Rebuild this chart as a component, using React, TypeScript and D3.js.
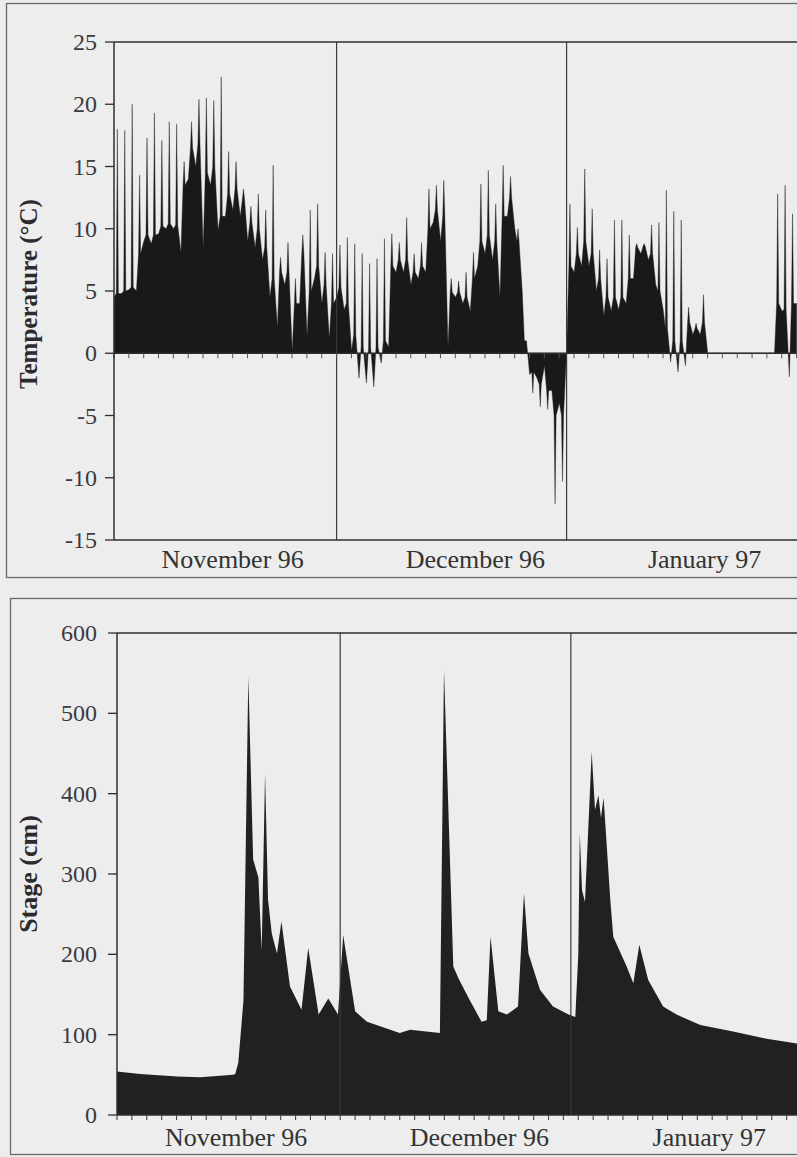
import React from "react";
import * as d3 from "d3";

// ---- Data (day offsets from 1 Nov 1996) ----
const monthStartDays = [0, 30, 61, 92];
const monthLabels = ["November 96", "December 96", "January 97"];
const monthLabelDays = [16, 48.7, 79.6];

const tempTicks = [25, 20, 15, 10, 5, 0, -5, -10, -15];
const stageTicks = [600, 500, 400, 300, 200, 100, 0];

// Temperature, one entry per day: value at start of day (night), shoulder level, daily extreme spike
const tempStart = [
  4.5, 4.8, 5.1, 5.0, 9.0, 8.8, 9.6, 10.0, 10.0, 8.1,
  14.0, 15.0, 8.5, 13.5, 9.9, 11.0, 11.5, 11.0, 9.0, 8.5,
  7.5, 4.5, 2.1, 5.5, 0.2, 4.0, 1.4, 6.0, 4.0, 1.2,
  4.5, 3.5, 0.2, -2.0, -2.4, -2.7, -0.8, 0.5, 6.5, 6.5,
  5.5, 6.0, 6.5, 10.5, 9.0, 0.5, 4.5, 4.0, 3.4, 7.0,
  8.0, 7.5, 4.5, 11.0, 10.0, 5.0, -1.7, -2.0, -1.0, -3.0,
  -4.0, 0.5, 6.5, 7.0, 7.0, 5.0, 3.0, 3.4, 3.5, 4.0,
  6.0, 8.0, 7.5, 5.5, 3.5, -0.7, -1.5, -1.0, 1.5, 1.5,
  0, 0, 0, 0, 0, 0, 0, 0, 0, 0, 3.4, -1.9,
];
const tempBody = [
  4.8, 5.0, 5.3, 8.0, 9.5, 9.5, 10.2, 10.4, 10.3, 13.5,
  16.5, 16.8, 14.5, 15.0, 11.0, 12.8, 13.2, 12.4, 10.5, 10.0,
  8.5, 6.0, 6.5, 6.5, 4.0, 8.0, 5.0, 7.0, 5.5, 4.0,
  5.3, 4.0, 1.5, 0.5, 0.5, 0.5, 1.0, 7.0, 7.5, 7.5,
  6.5, 7.0, 10.0, 11.5, 11.0, 4.9, 4.9, 4.5, 6.0, 9.0,
  9.5, 9.0, 11.0, 12.5, 9.0, 1.0, -1.5, -2.5, -3.0, -5.0,
  -5.0, 7.0, 8.0, 9.0, 8.0, 6.0, 4.5, 4.5, 4.5, 6.0,
  8.5, 8.6, 8.0, 5.0, 2.0, 1.0, 1.0, 2.5, 2.0, 2.5,
  0, 0, 0, 0, 0, 0, 0, 0, 0, 4.0, 3.5, 4.0,
];
const tempPeak = [
  18.0, 17.9, 20.0, 14.3, 17.3, 19.3, 17.1, 18.6, 18.4, 15.4,
  18.6, 20.4, 20.5, 20.3, 22.2, 16.2, 15.4, 13.2, 11.8, 12.8,
  11.5, 15.1, 7.7, 8.9, 6.0, 9.5, 11.5, 12.0, 8.1, 8.0,
  8.7, 9.3, 8.8, 8.0, 7.2, 7.6, 9.2, 9.6, 8.9, 10.9,
  8.0, 8.9, 13.2, 13.5, 13.9, 6.0, 5.8, 6.5, 8.1, 13.6,
  14.7, 12.0, 15.1, 14.2, 10.0, 1.0, -3.2, -4.3, -4.5, -12.1,
  -10.3, 12.0, 10.1, 14.8, 11.6, 8.3, 7.6, 10.7, 10.7, 9.5,
  8.8, 8.8, 10.3, 10.5, 13.1, 11.4, 10.7, 3.7, 2.4, 4.7,
  0, 0, 0, 0, 0, 0, 0, 0, 0, 12.8, 13.5, 11.2,
];

// Stage (cm), read at irregular day offsets
const stageDays = [
  0, 3.1, 8.1, 11.2, 15.6, 15.9, 16.3, 17.0, 17.2, 17.65,
  18.3, 19.0, 19.45, 19.9, 20.3, 20.8, 21.5, 22.1, 23.25, 24.8,
  25.7, 27.1, 28.4, 29.7, 30.4, 32.0, 33.6, 38.0, 39.4, 43.4,
  43.95, 45.2, 45.9, 47.4, 49.0, 49.7, 50.2, 51.25, 52.4, 53.9,
  54.7, 55.3, 56.85, 58.6, 60.7, 61.6, 62.0, 62.2, 62.5, 62.9,
  63.8, 64.25, 64.7, 65.05, 65.4, 66.3, 66.7, 68.5, 69.4, 70.2,
  71.4, 73.4, 75.2, 78.4, 82.8, 87.3, 92,
];
const stageValues = [
  54, 51, 48, 47, 50, 51, 65, 143, 268, 546,
  318, 296, 205, 425, 268, 226, 201, 241, 160, 131,
  208, 125, 145, 125, 224, 129, 116, 102, 106, 102,
  554, 185, 170, 143, 116, 118, 222, 129, 125, 135,
  276, 201, 156, 135, 125, 122, 200, 351, 280, 265,
  452, 380, 398, 370, 395, 268, 222, 185, 164, 212,
  168, 135, 125, 112, 104, 95, 88,
];

const W = 797;
const H = 1157;
const FONT = "'Liberation Serif', 'Times New Roman', serif";
const INK = "#2e2c2f";
const FILL_T = "#1a181b";
const FILL_S = "#232024";

export default function App() {
  const totalDays = monthStartDays[monthStartDays.length - 1];

  // Top panel scales
  const xT = d3.scaleLinear().domain([0, totalDays]).range([114, 796.6]);
  const yT = d3.scaleLinear().domain([-15, 25]).range([540, 42]);
  // Bottom panel scales
  const xB = d3.scaleLinear().domain([0, totalDays]).range([117, 801.5]);
  const yB = d3.scaleLinear().domain([0, 600]).range([1115, 633]);

  const tPts: [number, number][] = [];
  tempStart.forEach((s, i) => {
    tPts.push([i + 0.02, s]);
    tPts.push([i + 0.31, tempBody[i]]);
    tPts.push([i + 0.45, tempPeak[i]]);
    tPts.push([i + 0.59, tempBody[i]]);
  });
  tPts.push([totalDays, tempBody[tempBody.length - 1]]);

  const tempArea = d3
    .area<[number, number]>()
    .x((d) => xT(d[0]))
    .y0(yT(0))
    .y1((d) => yT(d[1]));

  const sPts: [number, number][] = stageDays.map((d, i) => [d, stageValues[i]]);
  const stageArea = d3
    .area<[number, number]>()
    .x((d) => xB(d[0]))
    .y0(yB(0))
    .y1((d) => yB(d[1]));

  const dayTicks = d3.range(0, totalDays + 1, 2);

  return (
    <svg
      width={W}
      height={H}
      style={{ position: "absolute", left: 0, top: 0, background: "#ededed" }}
    >
      <rect x={0} y={0} width={W} height={H} fill="#ededed" />
      {/* outer frames */}
      <rect x={6.5} y={3.5} width={W} height={574} fill="none" stroke="#6a6a6a" strokeWidth={1.3} />
      <rect x={10.5} y={598.5} width={W} height={556} fill="none" stroke="#6a6a6a" strokeWidth={1.3} />

      {/* ---------- TOP PANEL ---------- */}
      <path d={tempArea(tPts) || ""} fill={FILL_T} stroke={FILL_T} strokeWidth={0.4} strokeLinejoin="miter" />
      {/* month separators */}
      {monthStartDays.slice(1, 3).map((d) => (
        <line key={"mt" + d} x1={xT(d)} x2={xT(d)} y1={yT(25)} y2={yT(-15)} stroke="#3a3a3a" strokeWidth={1.2} />
      ))}
      {/* zero line */}
      <line x1={xT(0)} x2={W} y1={yT(0)} y2={yT(0)} stroke={INK} strokeWidth={1.3} />
      {dayTicks.map((d) => (
        <line key={"zt" + d} x1={xT(d)} x2={xT(d)} y1={yT(0)} y2={yT(0) + 5} stroke="#555" strokeWidth={1} />
      ))}
      {/* frame */}
      <line x1={xT(0)} x2={W} y1={yT(25)} y2={yT(25)} stroke={INK} strokeWidth={1.4} />
      <line x1={xT(0)} x2={W} y1={yT(-15)} y2={yT(-15)} stroke={INK} strokeWidth={1.4} />
      <line x1={xT(0)} x2={xT(0)} y1={yT(25)} y2={yT(-15)} stroke={INK} strokeWidth={1.5} />
      {tempTicks.map((t) => (
        <g key={"tt" + t}>
          <line x1={xT(0) - 9} x2={xT(0)} y1={yT(t)} y2={yT(t)} stroke={INK} strokeWidth={1.3} />
          <text
            x={97}
            y={yT(t)}
            textAnchor="end"
            dominantBaseline="central"
            fontFamily={FONT}
            fontSize={24}
            fill="#3c3a3d"
          >
            {t}
          </text>
        </g>
      ))}
      {monthLabels.map((m, i) => (
        <text
          key={"ml" + m}
          x={xT(monthLabelDays[i])}
          y={568}
          textAnchor="middle"
          fontFamily={FONT}
          fontSize={26}
          fill="#333"
        >
          {m}
        </text>
      ))}
      <text
        transform={`translate(37, 294) rotate(-90)`}
        textAnchor="middle"
        fontFamily={FONT}
        fontSize={25}
        fontWeight="bold"
        fill="#2c2a2d"
      >
        Temperature (°C)
      </text>

      {/* ---------- BOTTOM PANEL ---------- */}
      <path d={stageArea(sPts) || ""} fill={FILL_S} />
      {monthStartDays.slice(1, 3).map((d) => (
        <line key={"mb" + d} x1={xB(d)} x2={xB(d)} y1={yB(600)} y2={yB(0)} stroke="#3a3a3a" strokeWidth={1.2} />
      ))}
      <line x1={xB(0)} x2={W} y1={yB(600)} y2={yB(600)} stroke={INK} strokeWidth={1.4} />
      <line x1={xB(0)} x2={W} y1={yB(0)} y2={yB(0)} stroke={INK} strokeWidth={1.4} />
      <line x1={xB(0)} x2={xB(0)} y1={yB(600)} y2={yB(0)} stroke={INK} strokeWidth={1.5} />
      {dayTicks.map((d) => (
        <line key={"bt" + d} x1={xB(d)} x2={xB(d)} y1={yB(0)} y2={yB(0) + 5} stroke="#444" strokeWidth={1.1} />
      ))}
      {stageTicks.map((t) => (
        <g key={"st" + t}>
          <line x1={xB(0) - 9} x2={xB(0)} y1={yB(t)} y2={yB(t)} stroke={INK} strokeWidth={1.3} />
          <text
            x={97}
            y={yB(t)}
            textAnchor="end"
            dominantBaseline="central"
            fontFamily={FONT}
            fontSize={24}
            fill="#3c3a3d"
          >
            {t}
          </text>
        </g>
      ))}
      {monthLabels.map((m, i) => (
        <text
          key={"mlb" + m}
          x={xB(monthLabelDays[i])}
          y={1146}
          textAnchor="middle"
          fontFamily={FONT}
          fontSize={26}
          fill="#333"
        >
          {m}
        </text>
      ))}
      <text
        transform={`translate(37, 874) rotate(-90)`}
        textAnchor="middle"
        fontFamily={FONT}
        fontSize={26}
        fontWeight="bold"
        fill="#2c2a2d"
      >
        Stage (cm)
      </text>
    </svg>
  );
}
